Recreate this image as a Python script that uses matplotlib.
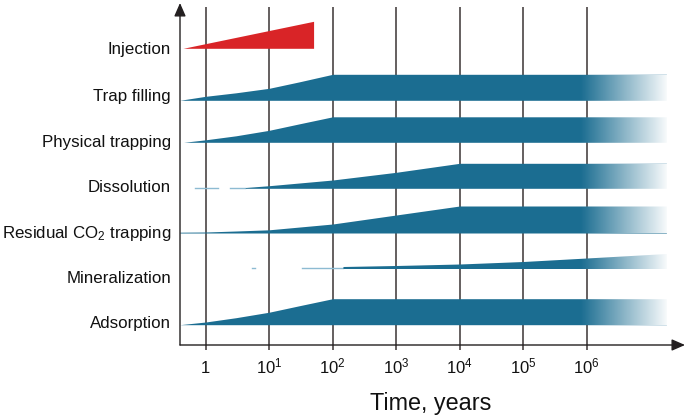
import numpy as np
import matplotlib
matplotlib.use('Agg')
import matplotlib.pyplot as plt

plt.rcParams['font.family'] = ['Liberation Sans', 'DejaVu Sans']
plt.rcParams['mathtext.fontset'] = 'custom'
plt.rcParams['mathtext.rm'] = 'Liberation Sans'
plt.rcParams['mathtext.default'] = 'regular'

BLUE  = '#1b6d91'
RED   = '#d92427'
LIGHT = '#8dbbd2'
AXC   = '#231f20'
GRIDC = '#3b3434'

# ── data: time in years, band thickness (px units of the y scale) ───────────
processes = ['Injection', 'Trap filling', 'Physical trapping', 'Dissolution',
             'Residual CO$_2$ trapping', 'Mineralization', 'Adsorption']

inj_t  = [0.44, 50]
inj_h  = [0, 27]

trap_t = [0.39, 1, 3, 10, 30, 100, 1.8e7]
trap_h = [0, 4, 7.5, 12, 18.5, 26, 26]

phys_t = [0.45, 1, 3, 10, 30, 100, 1.8e7]
phys_h = [0, 2.5, 6.5, 12, 18.5, 25.5, 25.5]

diss_t = [4.2, 10, 100, 1e3, 1e4, 1.8e7]
diss_h = [0.8, 2.6, 8.3, 16, 25, 25]
diss_dash = [(0.68, 1.55), (2.4, 4.2)]

resid_t = [0.39, 1, 3, 10, 100, 1e3, 1e4, 1.8e7]
resid_h = [0.8, 1, 2, 3.2, 9, 18, 27, 27]

mine_t = [145, 1e3, 1e4, 1e5, 1e6, 1.8e7]
mine_h = [2, 3, 4.5, 7, 10.5, 15]
mine_dash = [(5.3, 5.9), (33, 145)]

ads_t = [0.39, 1, 3, 10, 30, 100, 1.8e7]
ads_h = [0, 2.7, 7, 12.5, 19, 26, 26]

tick_years  = [1, 10, 100, 1e3, 1e4, 1e5, 1e6]
tick_labels = ['1', '$10^1$', '$10^2$', '$10^3$', '$10^4$', '$10^5$', '$10^6$']

# layout: band baselines and label baselines (y measured up from the time axis)
band_base  = [296.7, 244.7, 202.7, 156.7, 112.0, 76.5, 20.3]
label_base = [290.7, 244.0, 198.3, 152.7, 107.3, 62.3, 16.7]
FADE_FROM  = 10 ** 5.9


fig = plt.figure(figsize=(6.85, 4.2), dpi=100)
ax = fig.add_axes([180 / 685, 75 / 420, 505 / 685, 342 / 420])
ax.set_xscale('log')
ax.axis('off')


def draw_band(t, h, base, color, fade_from=None):
    t = np.asarray(t, float)
    h = np.asarray(h, float)
    ax.fill_between(t, base, base + h, color=color, lw=0, zorder=3)
    if fade_from is None:
        return
    # white overlay whose opacity grows (in log time) towards the band end
    n = 1500
    x_end = t[-1] * 1.12
    xc = np.linspace(fade_from, x_end, n)
    frac = (np.log10(xc) - np.log10(fade_from)) / (np.log10(t[-1]) - np.log10(fade_from))
    img = np.ones((1, n, 4))
    img[0, :, 3] = np.clip(0.97 * frac, 0, 1)
    img[0, xc >= t[-1], 3] = 1.0
    ax.imshow(img, extent=(fade_from, x_end, base - 0.3, base + h.max() + 0.3),
              aspect='auto', interpolation='bilinear', zorder=4, origin='lower')


# gridlines (extend below the axis as ticks)
ax.vlines(tick_years, -5, 338, colors=GRIDC, lw=1.1, zorder=1, clip_on=False)

draw_band(inj_t, inj_h, band_base[0], RED)
draw_band(trap_t, trap_h, band_base[1], BLUE, FADE_FROM)
draw_band(phys_t, phys_h, band_base[2], BLUE, FADE_FROM)
draw_band(diss_t, diss_h, band_base[3], BLUE, FADE_FROM)
draw_band(resid_t, resid_h, band_base[4], BLUE, FADE_FROM)
draw_band(mine_t, mine_h, band_base[5], BLUE, FADE_FROM)
draw_band(ads_t, ads_h, band_base[6], BLUE, FADE_FROM)

for a, b in diss_dash:
    ax.plot([a, b], [band_base[3] + 0.5] * 2, color=LIGHT, lw=1.0, zorder=2)
for a, b in mine_dash:
    ax.plot([a, b], [band_base[5] + 1.0] * 2, color=LIGHT, lw=1.0, zorder=2)

ax.set_xlim(10 ** -0.4047, 10 ** 7.548)
ax.set_ylim(0, 342)

# axes with arrows
arrow = dict(arrowstyle='-|>,head_length=0.8,head_width=0.35', mutation_scale=10,
             color=AXC, lw=1.0, shrinkA=0, shrinkB=0)
ax.annotate('', xy=(1.0, 0), xytext=(0, 0), xycoords='axes fraction',
            arrowprops=arrow, annotation_clip=False, zorder=5)
ax.annotate('', xy=(0, 1.0), xytext=(0, 0), xycoords='axes fraction',
            arrowprops=arrow, annotation_clip=False, zorder=5)

# row labels
ytr = ax.get_yaxis_transform()
for name, y in zip(processes, label_base):
    ax.text(-0.0178, y, name, transform=ytr, ha='right', va='baseline',
            fontsize=12.2, color='#111111')

# tick labels
for yr, lab in zip(tick_years, tick_labels):
    ax.text(yr, -28, lab, ha='center', va='baseline', fontsize=12,
            color='#111111', clip_on=False)

ax.text(0.496, -0.1725, 'Time, years', transform=ax.transAxes, ha='center',
        va='center', fontsize=16.8, color='#111111')

fig.savefig('out.png', dpi=100)
